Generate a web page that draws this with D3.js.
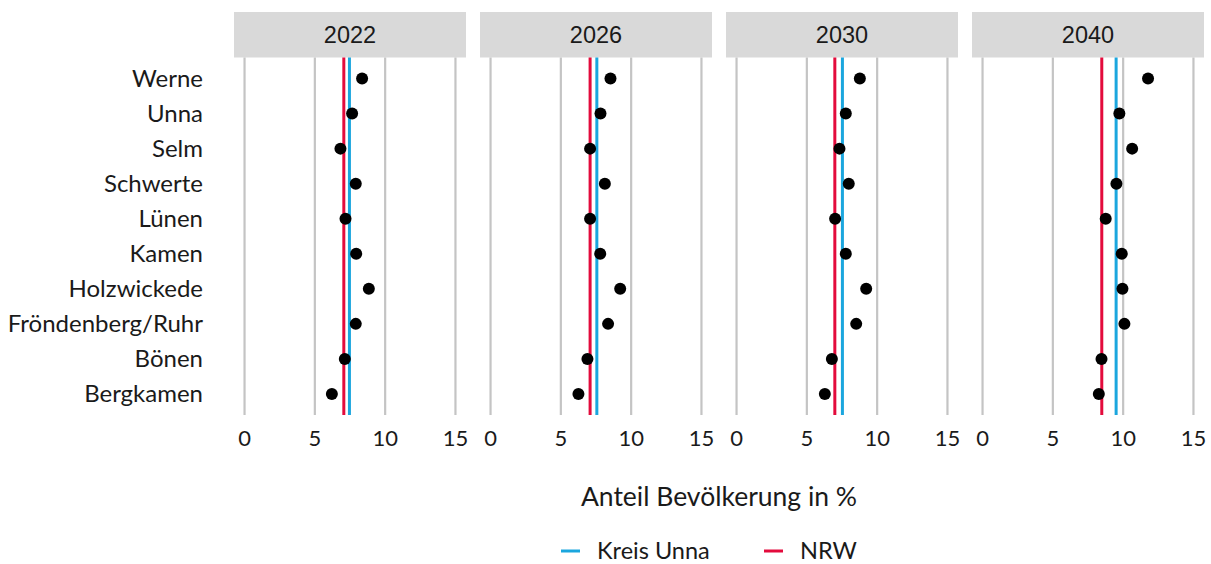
<!DOCTYPE html>
<html>
<head>
<meta charset="utf-8">
<script src="https://cdn.jsdelivr.net/npm/d3@7"></script>
<style>
  body { margin: 0; background: #fff; }
  text { font-family: Lato, sans-serif; fill: #1a1a1a; }
</style>
</head>
<body>
<div id="chart"></div>
<script>
var cities = ["Werne", "Unna", "Selm", "Schwerte", "Lünen", "Kamen", "Holzwickede", "Fröndenberg/Ruhr", "Bönen", "Bergkamen"];
var years = ["2022", "2026", "2030", "2040"];
// share per city (same order as cities)
var v2022 = [8.36, 7.65, 6.82, 7.91, 7.18, 7.94, 8.84, 7.91, 7.13, 6.21];
var v2026 = [8.53, 7.82, 7.08, 8.13, 7.08, 7.80, 9.22, 8.36, 6.89, 6.25];
var v2030 = [8.77, 7.77, 7.32, 7.98, 7.01, 7.77, 9.22, 8.51, 6.78, 6.28];
var v2040 = [11.77, 9.73, 10.64, 9.52, 8.76, 9.90, 9.95, 10.09, 8.46, 8.27];
var kreisUnna = [7.46, 7.56, 7.53, 9.50];
var nrw = [7.06, 7.08, 6.99, 8.48];
var ticks = [0, 5, 10, 15];

var values = [v2022, v2026, v2030, v2040];
var blue = "#1ba6de", red = "#e30b3c";

var width = 1211, height = 564;
var panelLeft = 234, panelW = 232, panelGap = 14;
var stripTop = 12, stripH = 45.5;
var panelTop = stripTop + stripH, panelBottom = 415;

var svg = d3.select("#chart").append("svg")
    .attr("width", width)
    .attr("height", height);

var y = d3.scalePoint()
    .domain(cities)
    .range([panelTop, panelBottom])
    .padding(0.6);

// y labels
svg.append("g").selectAll("text")
    .data(cities)
    .enter().append("text")
    .attr("x", 203)
    .attr("y", function (d) { return y(d); })
    .attr("dy", "0.35em")
    .attr("text-anchor", "end")
    .attr("font-size", "24px")
    .text(function (d) { return d; });

years.forEach(function (year, i) {
    var x0 = panelLeft + i * (panelW + panelGap);
    var x = d3.scaleLinear()
        .domain([-0.75, 15.75])
        .range([x0, x0 + panelW]);

    var g = svg.append("g");

    // strip
    g.append("rect")
        .attr("x", x0)
        .attr("y", stripTop)
        .attr("width", panelW)
        .attr("height", stripH)
        .attr("fill", "#d9d9d9");
    g.append("text")
        .attr("x", x0 + panelW / 2)
        .attr("y", stripTop + stripH / 2)
        .attr("dy", "0.36em")
        .attr("text-anchor", "middle")
        .attr("font-size", "23.5px")
        .style("font-family", "'Liberation Sans', Arial, sans-serif")
        .text(year);

    // grid lines
    g.selectAll(".grid")
        .data(ticks)
        .enter().append("line")
        .attr("x1", function (d) { return x(d); })
        .attr("x2", function (d) { return x(d); })
        .attr("y1", panelTop)
        .attr("y2", panelBottom)
        .attr("stroke", "#c4c4c4")
        .attr("stroke-width", 2.2);

    // tick labels
    g.selectAll(".tick")
        .data(ticks)
        .enter().append("text")
        .attr("x", function (d) { return x(d); })
        .attr("y", 438)
        .attr("dy", "0.35em")
        .attr("text-anchor", "middle")
        .attr("font-size", "22px")
        .text(function (d) { return d; });

    // reference lines
    g.append("line")
        .attr("x1", x(nrw[i])).attr("x2", x(nrw[i]))
        .attr("y1", panelTop).attr("y2", panelBottom)
        .attr("stroke", red).attr("stroke-width", 3);
    g.append("line")
        .attr("x1", x(kreisUnna[i])).attr("x2", x(kreisUnna[i]))
        .attr("y1", panelTop).attr("y2", panelBottom)
        .attr("stroke", blue).attr("stroke-width", 3);

    // dots
    g.selectAll("circle")
        .data(values[i])
        .enter().append("circle")
        .attr("cx", function (d) { return x(d); })
        .attr("cy", function (d, j) { return y(cities[j]); })
        .attr("r", 6)
        .attr("fill", "#000");
});

// axis title
svg.append("text")
    .attr("x", 719)
    .attr("y", 497)
    .attr("dy", "0.35em")
    .attr("text-anchor", "middle")
    .attr("font-size", "26.5px")
    .text("Anteil Bevölkerung in %");

// legend
var legend = [{ name: "Kreis Unna", color: blue, x: 561 }, { name: "NRW", color: red, x: 764 }];
var lg = svg.append("g").selectAll("g")
    .data(legend)
    .enter().append("g")
    .attr("transform", function (d) { return "translate(" + d.x + ",551)"; });
lg.append("line")
    .attr("x1", 0).attr("x2", 19)
    .attr("stroke", function (d) { return d.color; })
    .attr("stroke-width", 3);
lg.append("text")
    .attr("x", 36)
    .attr("dy", "0.35em")
    .attr("font-size", "23.5px")
    .text(function (d) { return d.name; });
</script>
</body>
</html>
